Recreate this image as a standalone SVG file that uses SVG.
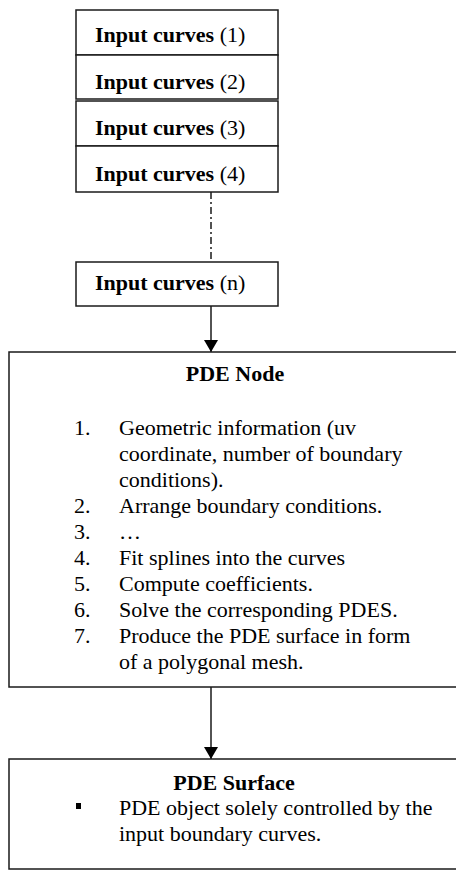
<svg xmlns="http://www.w3.org/2000/svg" width="456" height="871" viewBox="0 0 456 871">
<style>
  .box { fill: #fff; stroke: #1a1a1a; stroke-width: 1.5; }
  text { font-family: "Liberation Serif", "Times New Roman", serif; font-size: 22px; fill: #000; }
  .b { font-weight: bold; }
  .conn { stroke: #1a1a1a; stroke-width: 1.5; fill: none; }
</style>
<defs>
  <marker id="arrow" viewBox="0 0 12 14" refX="12" refY="7" markerWidth="12" markerHeight="14" markerUnits="userSpaceOnUse" orient="auto">
    <path d="M0,0 L12,7 L0,14 Z" fill="#000"/>
  </marker>
</defs>
<rect x="0" y="0" width="456" height="871" fill="#fff"/>
<g id="connectors">
  <line class="conn" x1="211" y1="192" x2="211" y2="262" stroke-dasharray="7,3,2,3"/>
  <line class="conn" x1="211" y1="306" x2="211" y2="352" marker-end="url(#arrow)"/>
  <line class="conn" x1="211" y1="687" x2="211" y2="759" marker-end="url(#arrow)"/>
</g>
<g id="curves1">
  <rect class="box" x="76" y="10" width="202" height="45"/>
  <text x="95" y="42"><tspan class="b">Input curves</tspan> (1)</text>
</g>
<g id="curves2">
  <rect class="box" x="76" y="55" width="202" height="44"/>
  <text x="95" y="89"><tspan class="b">Input curves</tspan> (2)</text>
</g>
<g id="curves3">
  <rect class="box" x="76" y="101" width="202" height="45"/>
  <text x="95" y="135"><tspan class="b">Input curves</tspan> (3)</text>
</g>
<g id="curves4">
  <rect class="box" x="76" y="146" width="202" height="46"/>
  <text x="95" y="181"><tspan class="b">Input curves</tspan> (4)</text>
</g>
<g id="curvesN">
  <rect class="box" x="76" y="262" width="202" height="44"/>
  <text x="95" y="290"><tspan class="b">Input curves</tspan> (n)</text>
</g>
<g id="pdeNode">
  <rect class="box" x="9" y="352" width="460" height="335"/>
  <text class="b" x="235" y="381" text-anchor="middle">PDE Node</text>
  <text x="74" y="435">1.</text><text x="119" y="435">Geometric information (uv</text>
  <text x="119" y="461">coordinate, number of boundary</text>
  <text x="119" y="487">conditions).</text>
  <text x="74" y="513">2.</text><text x="119" y="513">Arrange boundary conditions.</text>
  <text x="74" y="539">3.</text><text x="119" y="539">…</text>
  <text x="74" y="565">4.</text><text x="119" y="565">Fit splines into the curves</text>
  <text x="74" y="591">5.</text><text x="119" y="591">Compute coefficients.</text>
  <text x="74" y="617">6.</text><text x="119" y="617">Solve the corresponding PDES.</text>
  <text x="74" y="643">7.</text><text x="119" y="643">Produce the PDE surface in form</text>
  <text x="119" y="669">of a polygonal mesh.</text>
</g>
<g id="pdeSurface">
  <rect class="box" x="9" y="759" width="460" height="110"/>
  <text class="b" x="234" y="790" text-anchor="middle">PDE Surface</text>
  <rect x="76" y="803" width="5" height="6" fill="#000"/>
  <text x="119" y="815">PDE object solely controlled by the</text>
  <text x="119" y="841">input boundary curves.</text>
</g>
</svg>
